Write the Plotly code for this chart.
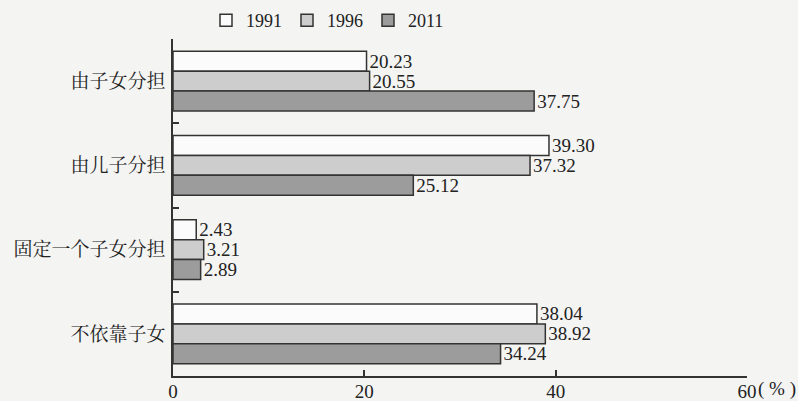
import plotly.graph_objects as go

categories = ["由子女分担", "由儿子分担", "固定一个子女分担", "不依靠子女"]
years = ["1991", "1996", "2011"]
v1991 = [20.23, 39.30, 2.43, 38.04]
v1996 = [20.55, 37.32, 3.21, 38.92]
v2011 = [37.75, 25.12, 2.89, 34.24]
series = [v1991, v1996, v2011]
fills = ["#fbfbfb", "#cdcdcd", "#9c9c9c"]
xticks = [0, 20, 40, 60]

serif = "Liberation Serif, Times New Roman, serif"
num_font = dict(family=serif, size=19, color="#222")
leg_font = dict(family=serif, size=18, color="#222")
cjk_font = dict(family="Noto Serif CJK SC, Noto Sans CJK SC, sans-serif", size=19, color="#222")

fig = go.Figure()
for name, vals, col in zip(years, series, fills):
    fig.add_trace(go.Bar(
        y=categories, x=vals, name=name, orientation="h",
        marker=dict(color=col, line=dict(color="#333", width=1.5)),
        text=[f"{v:.2f}" for v in vals], textposition="outside",
        textfont=num_font, cliponaxis=False, constraintext="none",
    ))

fig.update_layout(
    width=798, height=401,
    margin=dict(l=173, r=51, t=39, b=25, autoexpand=False),
    barmode="group", bargap=0.29, bargroupgap=0,
    paper_bgcolor="#f4f4f2", plot_bgcolor="#f4f4f2",
    showlegend=True,
    legend=dict(orientation="h", xref="container", yref="container",
                x=206 / 798, xanchor="left", y=0.995, yanchor="top",
                font=leg_font, bgcolor="rgba(0,0,0,0)", traceorder="normal",
                itemwidth=30, entrywidth=36, entrywidthmode="pixels"),
    xaxis=dict(range=[0, 60], tickvals=xticks, ticktext=[str(t) for t in xticks],
               showgrid=False, zeroline=False, showline=True, linecolor="#333", linewidth=1.5,
               ticks="inside", ticklen=6, tickcolor="#333", tickwidth=1.5,
               tickfont=num_font, ticklabelstandoff=-3, automargin=False),
    yaxis=dict(autorange="reversed", showgrid=False, zeroline=False,
               showline=True, linecolor="#333", linewidth=1.5,
               ticks="inside", tickson="boundaries", ticklen=6, tickcolor="#333", tickwidth=1.5,
               tickfont=cjk_font, ticklabelstandoff=2, automargin=False),
    annotations=[dict(x=60, y=0, xref="x", yref="paper", yanchor="top", xanchor="left",
                      xshift=9, yshift=0, text="( % )", showarrow=False, font=num_font)],
)

fig.write_html(
    "out.html",
    config={"displayModeBar": False},
    post_script="document.body.style.margin='0';document.body.style.overflow='hidden';",
)
